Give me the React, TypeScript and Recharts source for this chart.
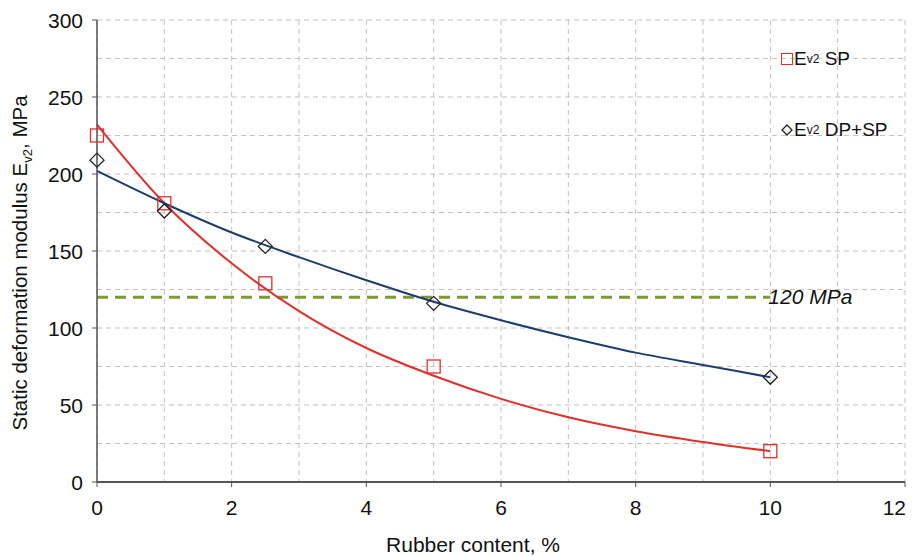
import { ComposedChart, Line, Scatter, XAxis, YAxis, CartesianGrid } from "recharts";

// measured points
const spPoints = [
  { x: 0, y: 225 },
  { x: 1, y: 181 },
  { x: 2.5, y: 129 },
  { x: 5, y: 75 },
  { x: 10, y: 20 },
];
const dpPoints = [
  { x: 0, y: 209 },
  { x: 1, y: 176 },
  { x: 2.5, y: 153 },
  { x: 5, y: 116 },
  { x: 10, y: 68 },
];

// trend curves
const spTrend = [
  { x: 0, y: 232 }, { x: 1, y: 181 }, { x: 2, y: 142 }, { x: 3, y: 111 },
  { x: 4, y: 87 }, { x: 5, y: 69 }, { x: 6, y: 54 }, { x: 7, y: 42 },
  { x: 8, y: 33 }, { x: 9, y: 26 }, { x: 10, y: 20 },
];
const dpTrend = [
  { x: 0, y: 202 }, { x: 1, y: 181 }, { x: 2, y: 162 }, { x: 3, y: 146 },
  { x: 4, y: 131 }, { x: 5, y: 117 }, { x: 6, y: 105 }, { x: 7, y: 94 },
  { x: 8, y: 84 }, { x: 9, y: 76 }, { x: 10, y: 68 },
];
const limitLine = [
  { x: 0, y: 120 },
  { x: 10, y: 120 },
];

const xTicks = [0, 2, 4, 6, 8, 10, 12];
const yTicks = [0, 50, 100, 150, 200, 250, 300];
const xGrid = [0, 1, 2, 3, 4, 5, 6, 7, 8, 9, 10, 11, 12];
const yGrid = [0, 25, 50, 75, 100, 125, 150, 175, 200, 225, 250, 275, 300];

const FONT = "'Liberation Sans', Arial, sans-serif";
const RED = "#e0302c";
const BLUE = "#1e3d6b";
const GREEN = "#7c9c2c";

const SquareDot = (props: any) => {
  const { cx, cy } = props;
  return <rect x={cx - 6.5} y={cy - 6.5} width={13} height={13} fill="none" stroke={RED} strokeWidth={1.3} />;
};

const DiamondDot = (props: any) => {
  const { cx, cy } = props;
  return (
    <path
      d={`M${cx},${cy - 7} L${cx + 7},${cy} L${cx},${cy + 7} L${cx - 7},${cy} Z`}
      fill="none"
      stroke="#222"
      strokeWidth={1.3}
    />
  );
};

const XTick = (props: any) => {
  const { x, y, payload, index, visibleTicksCount } = props;
  const last = index === visibleTicksCount - 1;
  return (
    <text
      x={last ? x + 2 : x}
      y={y + 24}
      textAnchor={last ? "end" : "middle"}
      fontFamily={FONT}
      fontSize={21}
      fill="#111"
    >
      {payload.value}
    </text>
  );
};

const YTick = (props: any) => {
  const { x, y, payload } = props;
  return (
    <text x={x + 1} y={y + 8} textAnchor="end" fontFamily={FONT} fontSize={21} fill="#111">
      {payload.value}
    </text>
  );
};

const XLabel = (props: any) => {
  const { viewBox } = props;
  const cx = viewBox.x + viewBox.width / 2 - 28;
  return (
    <text x={cx} y={552} textAnchor="middle" fontFamily={FONT} fontSize={21} fill="#111">
      Rubber content, %
    </text>
  );
};

const YLabel = (props: any) => {
  const { viewBox } = props;
  const cy = viewBox.y + viewBox.height / 2 + 12;
  const x = 27;
  return (
    <text
      x={x}
      y={cy}
      transform={`rotate(-90, ${x}, ${cy})`}
      textAnchor="middle"
      fontFamily={FONT}
      fontSize={20.5}
      fill="#111"
    >
      Static deformation modulus E
      <tspan fontSize={13} dy={5}>v2</tspan>
      <tspan dy={-5}>, MPa</tspan>
    </text>
  );
};

const LimitLabel = (props: any) => {
  const { x, y, index } = props;
  if (index !== 1) return null;
  return (
    <text x={x - 2} y={y + 7} fontFamily={FONT} fontSize={21} fontStyle="italic" fill="#111">
      120 MPa
    </text>
  );
};

const legendRow = {
  position: "absolute" as const,
  left: 781,
  fontFamily: FONT,
  fontSize: 19,
  color: "#111",
  whiteSpace: "nowrap" as const,
  display: "flex",
  alignItems: "center",
};

export default function App() {
  return (
    <div style={{ position: "absolute", left: 0, top: 0, width: 912, height: 556, background: "#fff" }}>
      <ComposedChart width={912} height={556} margin={{ top: 20, right: 7, bottom: 0, left: 0 }}>
        <CartesianGrid
          stroke="#c9bfbf"
          strokeDasharray="5 4"
          horizontalValues={yGrid}
          verticalValues={xGrid}
        />
        <XAxis
          type="number"
          dataKey="x"
          domain={[0, 12]}
          ticks={xTicks}
          height={74}
          axisLine={{ stroke: "#555", strokeWidth: 2 }}
          tickLine={{ stroke: "#555" }}
          tickSize={5}
          tickMargin={4}
          tick={<XTick />}
          label={<XLabel />}
        />
        <YAxis
          type="number"
          dataKey="y"
          domain={[0, 300]}
          ticks={yTicks}
          width={97}
          axisLine={{ stroke: "#555", strokeWidth: 1.5 }}
          tickLine={{ stroke: "#555" }}
          tickSize={5}
          tickMargin={10}
          tick={<YTick />}
          label={<YLabel />}
        />
        <Line
          data={limitLine}
          dataKey="y"
          stroke={GREEN}
          strokeWidth={3}
          strokeDasharray="11 7"
          dot={false}
          label={<LimitLabel />}
          isAnimationActive={false}
        />
        <Line data={spTrend} dataKey="y" type="monotone" stroke={RED} strokeWidth={2} dot={false} isAnimationActive={false} />
        <Line data={dpTrend} dataKey="y" type="monotone" stroke={BLUE} strokeWidth={2} dot={false} isAnimationActive={false} />
        <Scatter data={spPoints} dataKey="y" shape={<SquareDot />} isAnimationActive={false} />
        <Scatter data={dpPoints} dataKey="y" shape={<DiamondDot />} isAnimationActive={false} />
      </ComposedChart>
      <div style={{ ...legendRow, top: 48 }}>
        <span style={{ display: "inline-block", width: 10, height: 10, border: `1.3px solid ${RED}`, marginRight: 1 }} />
        E<sub style={{ fontSize: 12, verticalAlign: -6 }}>v2</sub>&nbsp;SP
      </div>
      <div style={{ ...legendRow, top: 119 }}>
        <svg width={12} height={12} style={{ marginRight: 1 }}>
          <path d="M6,1 L11,6 L6,11 L1,6 Z" fill="none" stroke="#222" strokeWidth={1.3} />
        </svg>
        E<sub style={{ fontSize: 12, verticalAlign: -6 }}>v2</sub>&nbsp;DP+SP
      </div>
    </div>
  );
}
